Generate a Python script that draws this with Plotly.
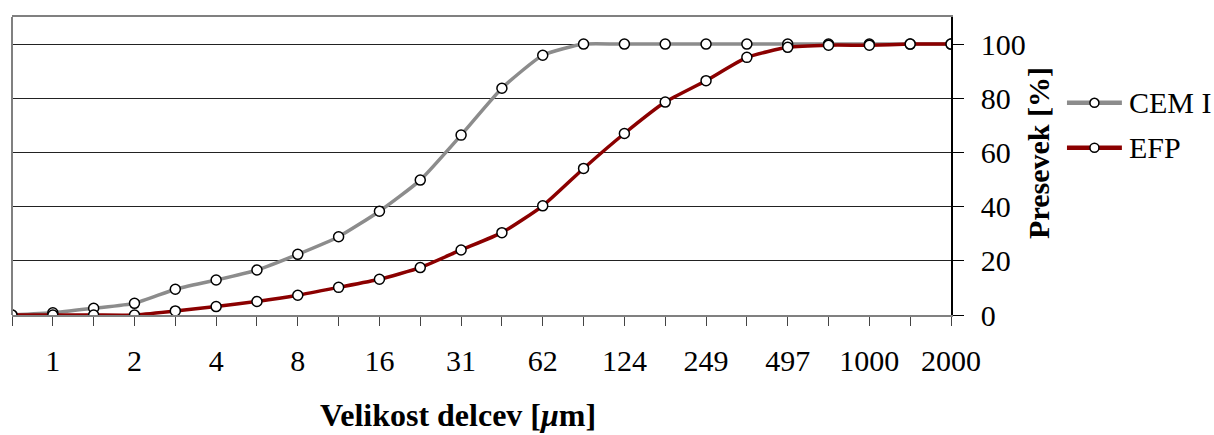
import plotly.graph_objects as go

# Sieve sizes (µm) – every other size carries a tick label
size_labels = ["", "1", "", "2", "", "4", "", "8", "", "16", "", "31",
               "", "62", "", "124", "", "249", "", "497", "", "1000", "", "2000"]

# Cumulative passing [%]
cem_i = [0, 0.8, 2.5, 4.3, 9.5, 12.9, 16.6, 22.4, 28.9, 38.3, 49.8, 66.4,
         83.7, 95.9, 100, 100, 100, 100, 100, 100, 100, 100, 100, 100]
efp = [0, 0, 0, 0, 1.5, 3.1, 5.0, 7.3, 10.2, 13.2, 17.5, 24.0,
       30.4, 40.3, 54.1, 67.0, 78.6, 86.5, 95.1, 98.8, 99.6, 99.6, 100, 100]

series_names = ["CEM I", "EFP"]
series_colors = ["#8c8c8c", "#8b0000"]

x_pos = list(range(len(size_labels)))

SERIF = "Liberation Serif, Times New Roman, serif"
marker = dict(symbol="circle", size=10, color="white",
              line=dict(color="black", width=1.5))

fig = go.Figure()
for name, vals, col in zip(series_names, [cem_i, efp], series_colors):
    fig.add_trace(go.Scatter(
        x=x_pos, y=vals, name=name, mode="lines+markers",
        line=dict(color=col, width=3.5, shape="spline", smoothing=0.5),
        marker=marker, showlegend=False,
    ))

# Hand-built legend on the right: line swatch, marker and label per series
shapes = [
    dict(type="line", xref="x domain", yref="y domain",
         x0=0, x1=0, y0=0, y1=1, line=dict(color="#808080", width=2)),
]
annotations = []
legend_x0, legend_x1 = 1.1235, 1.1820   # swatch ends (x domain)
legend_y = [0.712, 0.561]               # row centres (y domain)
for name, col, ly in zip(series_names, series_colors, legend_y):
    shapes.append(dict(type="line", xref="x domain", yref="y domain",
                       x0=legend_x0, x1=legend_x1, y0=ly, y1=ly,
                       line=dict(color=col, width=4.5)))
    xm = (legend_x0 + legend_x1) / 2
    shapes.append(dict(type="circle", xref="x domain", yref="y domain",
                       x0=xm - 0.0048, x1=xm + 0.0048,
                       y0=ly - 0.0151, y1=ly + 0.0151,
                       fillcolor="white", line=dict(color="black", width=1.5)))
    annotations.append(dict(text=name, xref="x domain", yref="y domain",
                            x=legend_x1 + 0.005, y=ly, xanchor="left",
                            yanchor="middle", showarrow=False,
                            font=dict(family=SERIF, size=30, color="black")))

# Axis titles
annotations.append(dict(text="<b>Velikost delcev [<i>μ</i>m]</b>",
                        xref="x domain", yref="y domain", x=0.475, y=-0.336,
                        xanchor="center", yanchor="middle", showarrow=False,
                        font=dict(family=SERIF, size=32, color="black")))
annotations.append(dict(text="<b>Presevek [%]</b>", textangle=-90,
                        xref="x domain", yref="y domain", x=1.093, y=0.545,
                        xanchor="center", yanchor="middle", showarrow=False,
                        font=dict(family=SERIF, size=30, color="black")))

fig.update_layout(
    width=1214, height=435,
    margin=dict(l=12, r=263, t=17, b=120),
    paper_bgcolor="white", plot_bgcolor="white",
    font=dict(family=SERIF, size=30, color="black"),
    showlegend=False,
    xaxis=dict(
        range=[0, len(size_labels) - 1],
        tickmode="array", tickvals=x_pos, ticktext=size_labels,
        ticks="outside", ticklen=9, tickcolor="#444", tickwidth=1,
        showline=True, linecolor="#808080", linewidth=2, mirror=True,
        showgrid=False, zeroline=False,
        tickfont=dict(family=SERIF, size=30, color="black"),
        ticklabelstandoff=9,
    ),
    yaxis=dict(
        range=[0, 110], side="right",
        tickmode="array", tickvals=[0, 20, 40, 60, 80, 100],
        ticks="outside", ticklen=11, tickcolor="black", tickwidth=1,
        showline=True, linecolor="black", linewidth=1.5,
        showgrid=True, gridcolor="#222", gridwidth=1,
        zeroline=False,
        tickfont=dict(family=SERIF, size=30, color="black"),
        ticklabelstandoff=11,
    ),
    shapes=shapes,
    annotations=annotations,
)

fig.write_html("out.html")
